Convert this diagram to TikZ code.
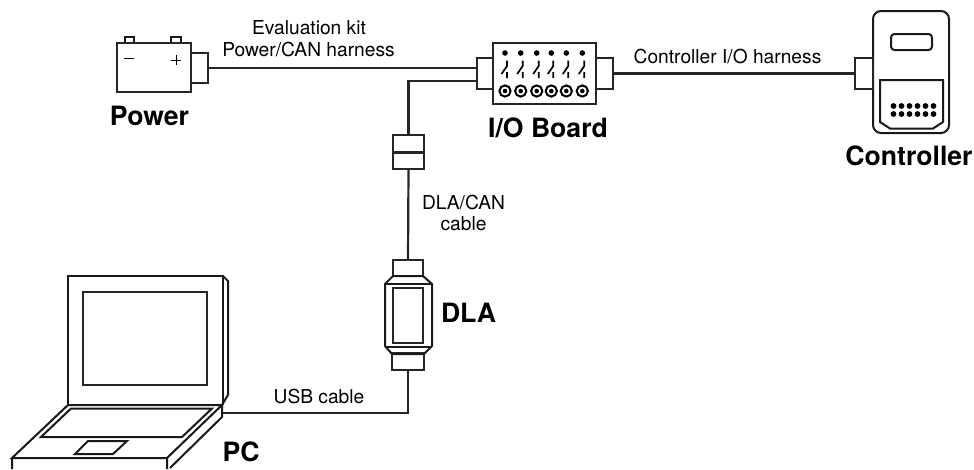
\documentclass[tikz,border=0pt]{standalone}
\usepackage{fontspec}
\setmainfont{TeX Gyre Heros}
\tikzset{
 x=1pt,y=-1pt,
 ln/.style={line width=2pt,black!90,line join=miter},
 wire/.style={line width=2.2pt,black!85},
 conn/.style={draw=black!85,line width=2pt,fill=white,inner sep=0pt,outer sep=0pt,rectangle},
 lab/.style={font=\fontsize{19.2}{21}\selectfont,inner sep=0pt,anchor=base},
 big/.style={font=\bfseries\fontsize{26.6}{28}\selectfont,inner sep=0pt,anchor=base},
}
\begin{document}
\begin{tikzpicture}
\useasboundingbox (0,0) rectangle (974,469);
% Battery
\draw[ln] (125,43)--(125,37)--(134,37)--(134,43) (171,43)--(171,37)--(181,37)--(181,43);
\node[conn,minimum width=74pt,minimum height=49pt] (bat) at (154,67.5) {};
\draw[line width=1pt] (124,58.5)--(134,58.5) (171,60)--(181,60) (176,55)--(176,65);
\node[conn,minimum width=17pt,minimum height=30pt] (batc) at (199.5,68) {};
% I/O board
\node[conn,minimum width=103pt,minimum height=61pt] (io) at (544.5,73.5) {};
\node[conn,minimum width=16pt,minimum height=31pt] (iol) at (485,73.5) {};
\node[conn,minimum width=17pt,minimum height=31pt] (ior) at (604.5,73.5) {};
\foreach \i/\x in {1/505,2/520.7,3/536.7,4/551.3,5/566.3,6/582.3}{
  \fill (\x,53) circle (2.8pt);
  \draw[line width=1.7pt] (\x+2,60.5)--(\x+2,66)--(\x-3.5,74) (\x+2,72)--(\x+2,78);
  \draw[line width=2pt] (\x,91) circle (5.6pt);
  \fill (\x,91) circle (2.3pt);
}
% Controller
\draw[ln,rounded corners=8pt] (873,11) rectangle (949,133);
\draw[ln,rounded corners=3.5pt] (891,34) rectangle (932,50);
\draw[ln] (880,122)--(880,80)--(943,80)--(943,122)--(933,128.5)--(890,128.5)--cycle;
\foreach \x in {0,1,2,3,4,5}{
  \fill (893.5+\x*8,106) circle (2.9pt);
  \fill (893.5+\x*8,114) circle (2.9pt);
}
\node[conn,minimum width=18pt,minimum height=31pt] (ctl) at (864,73.5) {};
% Coupler
\node[conn,minimum width=31pt,minimum height=34pt] (cpl) at (408.5,152) {};
\draw[line width=3pt,black!85] (cpl.west)--(cpl.east);
% DLA
\node[conn,minimum width=30pt,minimum height=16pt] (dlat) at (408,268) {};
\node[conn,minimum width=32pt,minimum height=17pt] (dlab) at (408,361.5) {};
\draw[ln] (393,276)--(423,276)--(432,284)--(432,346)--(424,354)--(392,354)--(385,346)--(385,284)--cycle;
\draw[ln] (385,283.5)--(432,283.5) (385,347)--(432,347);
\node[conn,minimum width=30pt,minimum height=55pt] (dlai) at (408,315.5) {};
% Laptop
\draw[ln] (223,404)--(223,276)--(68,276)--(68,404);
\draw[ln] (223,276)--(228,281)--(228,395)--(222,405);
\node[conn,minimum width=124pt,minimum height=93pt] (scr) at (145,338.5) {};
\draw[ln] (68,405)--(222,405)--(167,458)--(12,458)--cycle;
\draw[ln] (12,458)--(12,469) (167,458)--(167,469) (222,405)--(222,417)--(170,468);
\draw[ln] (71,408.5)--(212,408.5)--(182,437)--(41,437)--cycle;
\draw[ln] (88,441)--(127,441)--(113,454)--(75,454)--cycle;
\coordinate (pcp) at (222.5,413);
% Connectors
\draw[wire] (batc.east) -- (iol.west |- batc.east);
\draw[wire] (iol.west |- 0,81) -- (408.5,81) -- (cpl.north);
\draw[wire] (cpl.south) -- (dlat.north);
\draw[wire] (ior.east) -- (ctl.west);
\draw[wire] (dlab.south) -- (pcp -| dlab.south) -- (pcp);
% Labels
\node[lab] (t1) at (309,34) {Evaluation kit};
\node[lab] (t2) at (308.5,56) {Power/CAN harness};
\node[lab] (t3) at (727.5,63) {Controller I/O harness};
\node[lab] (t4) at (463.5,209) {DLA/CAN};
\node[lab] (t5) at (463.5,230) {cable};
\node[lab] (t6) at (319,403) {USB cable};
\node[big] (n1) at (149.5,125) {Power};
\node[big] (n2) at (548,137) {I/O Board};
\node[big] (n3) at (909,165) {Controller};
\node[big] (n4) at (468.5,322) {DLA};
\node[big] (n5) at (241,461) {PC};
\end{tikzpicture}
\end{document}
